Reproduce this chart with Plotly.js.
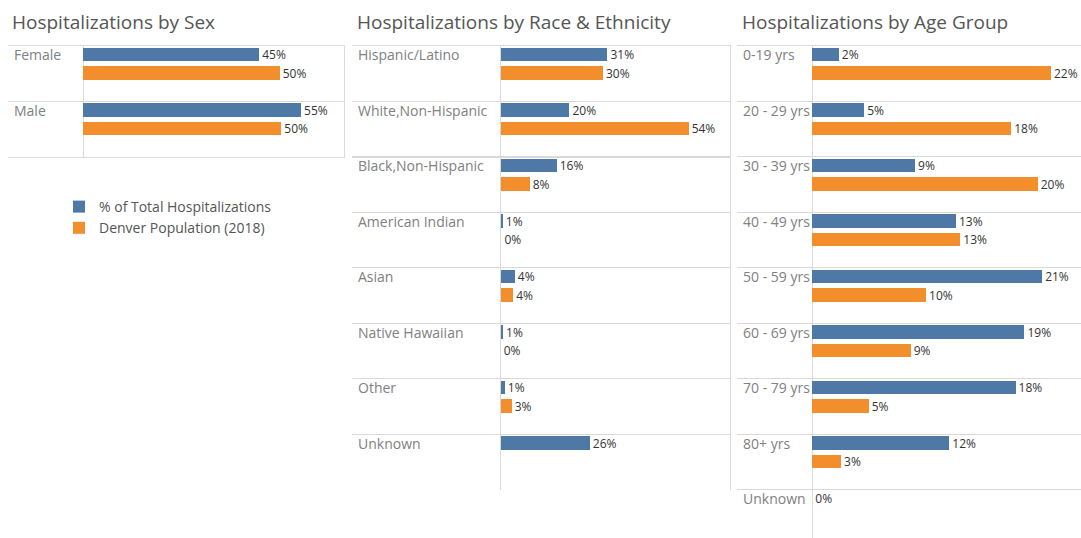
<!DOCTYPE html>
<html>
<head>
<meta charset="utf-8">
<script src="https://cdn.plot.ly/plotly-3.0.1.min.js"></script>
<style>html,body{margin:0;padding:0;background:#fff;}#chart{width:1081px;height:538px;}</style>
</head>
<body>
<div id="chart"></div>
<script>
// ---- data ----
const seriesNames = ["% of Total Hospitalizations", "Denver Population (2018)"];
const panelTitles = ["Hospitalizations by Sex", "Hospitalizations by Race & Ethnicity", "Hospitalizations by Age Group"];

const sexCategories = ["Female", "Male"];
const sexHosp = [44.6, 55.2];
const sexPop = [49.8, 50.2];

const raceCategories = ["Hispanic/Latino", "White,Non-Hispanic", "Black,Non-Hispanic", "American Indian", "Asian", "Native Hawaiian", "Other", "Unknown"];
const raceHosp = [30.9, 19.9, 16.2, 0.6, 4.1, 0.7, 1.2, 25.8];
const racePop = [29.6, 54.4, 8.4, 0.2, 3.6, 0.0, 3.2, null];

const ageCategories = ["0-19 yrs", "20 - 29 yrs", "30 - 39 yrs", "40 - 49 yrs", "50 - 59 yrs", "60 - 69 yrs", "70 - 79 yrs", "80+ yrs", "Unknown"];
const ageHosp = [2.4, 4.7, 9.3, 13.0, 20.8, 19.2, 18.4, 12.4, 0.0];
const agePop = [21.6, 18.0, 20.4, 13.4, 10.3, 8.9, 5.1, 2.6, null];

// ---- style ----
const W = 1081, H = 538;
const BLUE = "#4e79a7", ORANGE = "#f28e2b";
const LINE = "#d9d9d9";
const FONT = "Open Sans, Noto Sans, sans-serif";
const px = v => v / W;
const py = v => 1 - v / H;

function bars(cats, vals, color, name, xa, ya, offset, show) {
  return {
    type: "bar", orientation: "h", y: cats, x: vals,
    xaxis: xa, yaxis: ya, name: name, showlegend: show,
    marker: {color: color, line: {width: 0}},
    width: 0.245, offset: offset,
    text: vals.map(v => v === null ? "" : Math.round(v) + "%"),
    textposition: "outside", cliponaxis: false, constraintext: "none",
    textfont: {family: FONT, size: 12, color: "#333333"},
    hoverinfo: "skip"
  };
}

const data = [
  bars(sexCategories, sexHosp, BLUE, seriesNames[0], "x", "y", -0.46, true),
  bars(sexCategories, sexPop, ORANGE, seriesNames[1], "x", "y", -0.125, true),
  bars(raceCategories, raceHosp, BLUE, seriesNames[0], "x2", "y2", -0.46, false),
  bars(raceCategories, racePop, ORANGE, seriesNames[1], "x2", "y2", -0.125, false),
  bars(ageCategories, ageHosp, BLUE, seriesNames[0], "x3", "y3", -0.46, false),
  bars(ageCategories, agePop, ORANGE, seriesNames[1], "x3", "y3", -0.125, false)
];

function xax(domain, range, top) {
  return {
    domain: domain, range: range, showticklabels: false, ticks: "",
    showgrid: false, zeroline: true, zerolinecolor: LINE, zerolinewidth: 1,
    showline: true, linecolor: LINE, linewidth: 1,
    mirror: top ? false : true, side: top ? "top" : "bottom", fixedrange: true
  };
}
function yax(domain, range, anchor, rightLine) {
  return {
    domain: domain, range: range, type: "category", anchor: anchor,
    tickson: "boundaries", showgrid: true, gridcolor: LINE, gridwidth: 1,
    showticklabels: false, ticks: "", zeroline: false,
    showline: rightLine, side: "right", linecolor: LINE, linewidth: 1, fixedrange: true
  };
}

const ROW = 55.5;
const layout = {
  width: W, height: H, margin: {l: 0, r: 0, t: 0, b: 0},
  paper_bgcolor: "#ffffff", plot_bgcolor: "rgba(0,0,0,0)",
  barmode: "overlay", bargap: 0,
  font: {family: FONT, color: "#555555"},
  xaxis: xax([px(8), px(344.3)], [-75 / 3.95, 261.3 / 3.95], false),
  yaxis: yax([py(45.5 + 2 * ROW), py(45.5)], [1.5, -0.5], "x", true),
  xaxis2: xax([px(351.7), px(730)], [-149 / 3.455, 229.3 / 3.455], false),
  yaxis2: yax([py(45.5 + 8 * ROW), py(45.5)], [7.5, -0.5], "x2", true),
  xaxis3: xax([px(737.3), 1], [-75 / 11.05, 268.7 / 11.05], true),
  yaxis3: yax([0, py(45.5)], [-0.5 + (H - 45.5) / ROW, -0.5], "x3", false),
  showlegend: true,
  legend: {
    x: px(59), y: py(191), xanchor: "left", yanchor: "top",
    font: {family: FONT, size: 14, color: "#555555"},
    bgcolor: "rgba(0,0,0,0)", tracegroupgap: 0, itemwidth: 30
  },
  annotations: []
};

const titleAxes = [["x domain", 2], ["x2 domain", 3], ["x3 domain", 3]];
panelTitles.forEach((t, i) => {
  layout.annotations.push({
    text: t, xref: titleAxes[i][0], x: 0, xanchor: "left", xshift: titleAxes[i][1],
    yref: "paper", y: py(22), yanchor: "middle", showarrow: false,
    font: {family: FONT, size: 19, color: "#555555"}
  });
});

function catLabels(cats, xref, yref) {
  cats.forEach(c => {
    layout.annotations.push({
      text: c, xref: xref, x: 0, xanchor: "left", xshift: 4,
      yref: yref, y: c, yanchor: "middle", yshift: 18.5,
      showarrow: false, font: {family: FONT, size: 14, color: "#808080"}
    });
  });
}
catLabels(sexCategories, "x domain", "y");
catLabels(raceCategories, "x2 domain", "y2");
catLabels(ageCategories, "x3 domain", "y3");

Plotly.newPlot("chart", data, layout, {staticPlot: true, displayModeBar: false});
</script>
</body>
</html>
